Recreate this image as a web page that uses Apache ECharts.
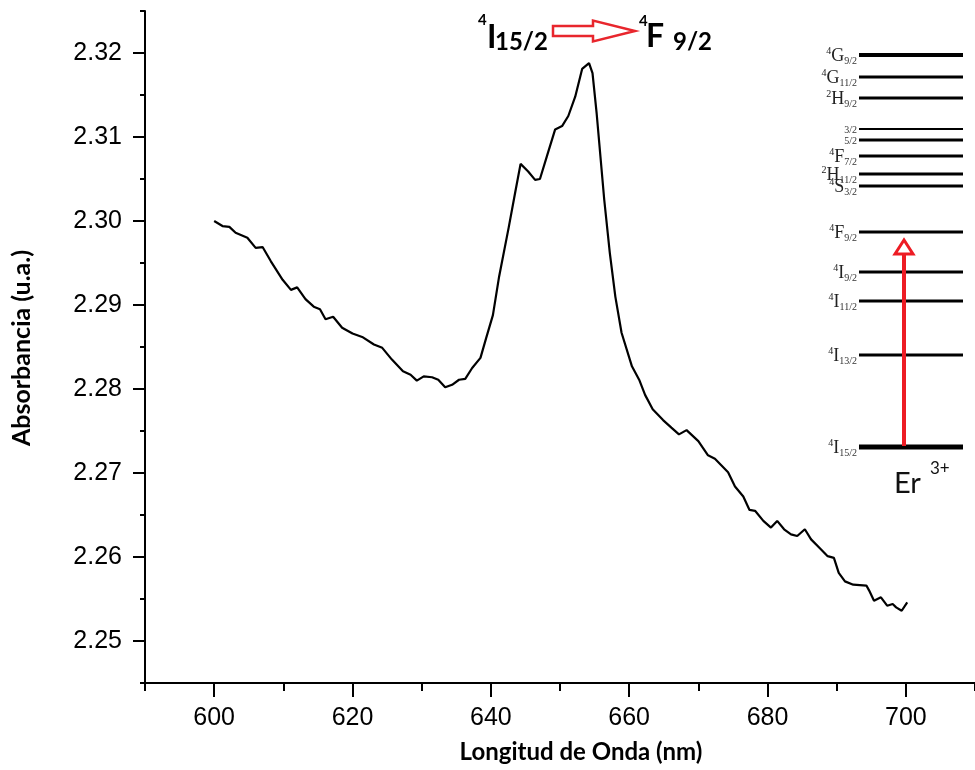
<!DOCTYPE html>
<html>
<head>
<meta charset="utf-8">
<script src="https://cdn.jsdelivr.net/npm/echarts@6/dist/echarts.min.js"></script>
<style>
html,body{margin:0;padding:0;background:#fff;}
#c{width:975px;height:770px;}
</style>
</head>
<body>
<div id="c"></div>
<script>
// ---- data ----
const wavelength = [600.0,601.2,602.2,603.1,604.8,606.0,607.0,608.2,609.9,611.1,612.0,613.2,614.4,615.3,616.1,617.2,618.5,620.0,621.4,623.1,624.3,625.7,627.3,628.4,629.3,630.3,631.5,632.4,633.4,634.4,635.4,636.3,637.3,638.5,639.3,640.3,641.2,642.6,643.5,644.3,645.4,646.4,647.1,648.1,649.3,650.3,651.2,652.2,653.2,654.2,654.7,655.3,656.4,657.2,658.0,658.9,660.4,661.5,662.3,663.4,664.9,666.1,667.2,668.3,670.0,671.4,672.4,674.3,675.3,676.5,677.4,678.2,679.4,680.5,681.4,682.4,683.4,684.3,685.4,686.3,687.5,688.7,689.6,690.3,691.2,692.4,694.3,694.7,695.4,696.4,697.3,698.1,698.6,699.4,700.2];
const absorbance = [2.3000,2.2994,2.2993,2.2986,2.2980,2.2968,2.2969,2.2952,2.2930,2.2918,2.2921,2.2907,2.2898,2.2895,2.2883,2.2886,2.2873,2.2866,2.2862,2.2853,2.2849,2.2835,2.2821,2.2817,2.2810,2.2815,2.2814,2.2811,2.2802,2.2805,2.2811,2.2812,2.2825,2.2837,2.2860,2.2888,2.2934,2.2993,2.3033,2.3068,2.3059,2.3049,2.3050,2.3077,2.3109,2.3113,2.3125,2.3148,2.3181,2.3188,2.3176,2.3128,2.3025,2.2962,2.2910,2.2867,2.2827,2.2810,2.2793,2.2776,2.2763,2.2754,2.2746,2.2751,2.2738,2.2721,2.2717,2.2701,2.2684,2.2672,2.2656,2.2655,2.2643,2.2635,2.2643,2.2633,2.2627,2.2625,2.2633,2.2621,2.2611,2.2601,2.2599,2.2581,2.2571,2.2567,2.2566,2.2560,2.2548,2.2552,2.2542,2.2544,2.2540,2.2536,2.2546];
const xMajorTicks = [600,620,640,660,680,700];
const xMinorTicks = [590,610,630,650,670,690,710];
const yMajorTicks = [2.25,2.26,2.27,2.28,2.29,2.30,2.31,2.32];
const yMinorTicks = [2.245,2.255,2.265,2.275,2.285,2.295,2.305,2.315,2.325];
const xTitle = 'Longitud de Onda (nm)';
const yTitle = 'Absorbancia (u.a.)';

// energy-level inset (illustration)
const levels = [
  {y:55,  w:4, sup:'4', main:'G', sub:'9/2'},
  {y:77,  w:3, sup:'4', main:'G', sub:'11/2'},
  {y:98,  w:3, sup:'2', main:'H', sub:'9/2'},
  {y:129, w:2, sup:'',  main:'',  sub:'3/2'},
  {y:140, w:3, sup:'',  main:'',  sub:'5/2'},
  {y:156, w:3, sup:'4', main:'F', sub:'7/2'},
  {y:174, w:3, sup:'2', main:'H', sub:'11/2'},
  {y:186, w:3, sup:'4', main:'S', sub:'3/2'},
  {y:232, w:3, sup:'4', main:'F', sub:'9/2'},
  {y:272, w:3, sup:'4', main:'I', sub:'9/2'},
  {y:301, w:3, sup:'4', main:'I', sub:'11/2'},
  {y:355, w:3, sup:'4', main:'I', sub:'13/2'},
  {y:447, w:5, sup:'4', main:'I', sub:'15/2'}
];

const seriesData = wavelength.map((w, i) => [w, absorbance[i]]);

const graphics = [];
levels.forEach(l => {
  graphics.push({type:'line', shape:{x1:859, y1:l.y, x2:963, y2:l.y}, style:{stroke:'#000', lineWidth:l.w}, z:10});
  let txt = '';
  if (l.sup) txt += '{a|' + l.sup + '}';
  if (l.main) txt += '{b|' + l.main + '}';
  txt += '{c|' + l.sub + '}';
  graphics.push({
    type:'text', x:857, y:l.y + 1, z:10,
    style:{
      text: txt, align:'right', verticalAlign:'middle',
      fontFamily:'Liberation Serif', fill:'#222',
      rich:{
        a:{fontSize:10, lineHeight:10, verticalAlign:'top', fontFamily:'Liberation Serif', fill:'#222'},
        b:{fontSize:18, lineHeight:20, verticalAlign:'middle', fontFamily:'Liberation Serif', fill:'#222'},
        c:{fontSize:10, lineHeight:10, verticalAlign:'bottom', fontFamily:'Liberation Serif', fill:'#333'}
      }
    }
  });
});
// red vertical excitation arrow
graphics.push({type:'line', shape:{x1:904, y1:446, x2:904, y2:254}, style:{stroke:'#ed1c24', lineWidth:4}, z:11});
graphics.push({type:'polygon', shape:{points:[[904,240],[895,254],[913,254]]}, style:{stroke:'#ed1c24', fill:'#fff', lineWidth:3}, z:12});
graphics.push({type:'text', x:894, y:484, style:{text:'Er', font:'29px Lato', fill:'#111', verticalAlign:'middle'}, z:10});
graphics.push({type:'text', x:930, y:469, style:{text:'3+', font:'17px Lato', fill:'#111', verticalAlign:'middle'}, z:10});

// top transition annotation
graphics.push({type:'text', x:478, y:20, style:{text:'4', font:'bold 15px Lato', fill:'#000', verticalAlign:'middle'}, z:10});
graphics.push({type:'text', x:487, y:38, style:{text:'I', font:'bold 32px Lato', fill:'#000', verticalAlign:'middle'}, z:10});
graphics.push({type:'text', x:495, y:42, style:{text:'15/2', font:'bold 24px Lato', fill:'#000', verticalAlign:'middle'}, z:10});
graphics.push({type:'polygon', shape:{points:[[553,26],[593,26],[593,20.5],[635,31],[593,41.5],[593,36],[553,36]]}, style:{stroke:'#e8262d', fill:'#fff', lineWidth:2.5}, z:10});
graphics.push({type:'text', x:639, y:21, style:{text:'4', font:'bold 15px Lato', fill:'#000', verticalAlign:'middle'}, z:10});
graphics.push({type:'text', x:646, y:37, style:{text:'F', font:'bold 32px Lato', fill:'#000', verticalAlign:'middle'}, z:10});
graphics.push({type:'text', x:673, y:42, style:{text:'9/2', font:'bold 24px Lato', fill:'#000', verticalAlign:'middle'}, z:10});

// axis titles
graphics.push({type:'text', x:581, y:752, style:{text:xTitle, font:'bold 24px Lato', fill:'#000', align:'center', verticalAlign:'middle'}, z:10});
graphics.push({type:'text', x:22, y:348, rotation:Math.PI/2, style:{text:yTitle, font:'bold 25px Lato', fill:'#000', align:'center', verticalAlign:'middle'}, z:10});

const axisCommon = {
  type:'value', splitLine:{show:false}
};

const chart = echarts.init(document.getElementById('c'), null, {renderer:'canvas'});
chart.setOption({
  animation:false,
  backgroundColor:'#fff',
  grid:{left:145, top:11, right:0, bottom:87, containLabel:false},
  xAxis:[
    Object.assign({}, axisCommon, {
      min:590, max:710, position:'bottom',
      axisLine:{show:true, lineStyle:{color:'#000', width:2}},
      axisTick:{show:true, customValues:xMajorTicks, length:14, inside:false, lineStyle:{color:'#000', width:2}},
      axisLabel:{show:true, customValues:xMajorTicks, fontSize:25, fontFamily:'Liberation Sans', color:'#000', margin:23}
    }),
    Object.assign({}, axisCommon, {
      min:590, max:710, position:'bottom',
      axisLine:{show:false},
      axisTick:{show:true, customValues:xMinorTicks, length:8, inside:false, lineStyle:{color:'#000', width:2}},
      axisLabel:{show:false}
    })
  ],
  yAxis:[
    Object.assign({}, axisCommon, {
      min:2.245, max:2.325, position:'left',
      axisLine:{show:true, lineStyle:{color:'#000', width:2}},
      axisTick:{show:true, customValues:yMajorTicks, length:12, inside:false, lineStyle:{color:'#000', width:2}},
      axisLabel:{show:true, customValues:yMajorTicks, fontSize:25, fontFamily:'Liberation Sans', color:'#000', margin:23,
        formatter: v => Number(v).toFixed(2)}
    }),
    Object.assign({}, axisCommon, {
      min:2.245, max:2.325, position:'left',
      axisLine:{show:false},
      axisTick:{show:true, customValues:yMinorTicks, length:5, inside:false, lineStyle:{color:'#000', width:2}},
      axisLabel:{show:false}
    })
  ],
  series:[{
    type:'line', xAxisIndex:0, yAxisIndex:0,
    data: seriesData, showSymbol:false, symbol:'none',
    lineStyle:{color:'#000', width:2.2}, smooth:false
  }],
  graphic: graphics
});
</script>
</body>
</html>
